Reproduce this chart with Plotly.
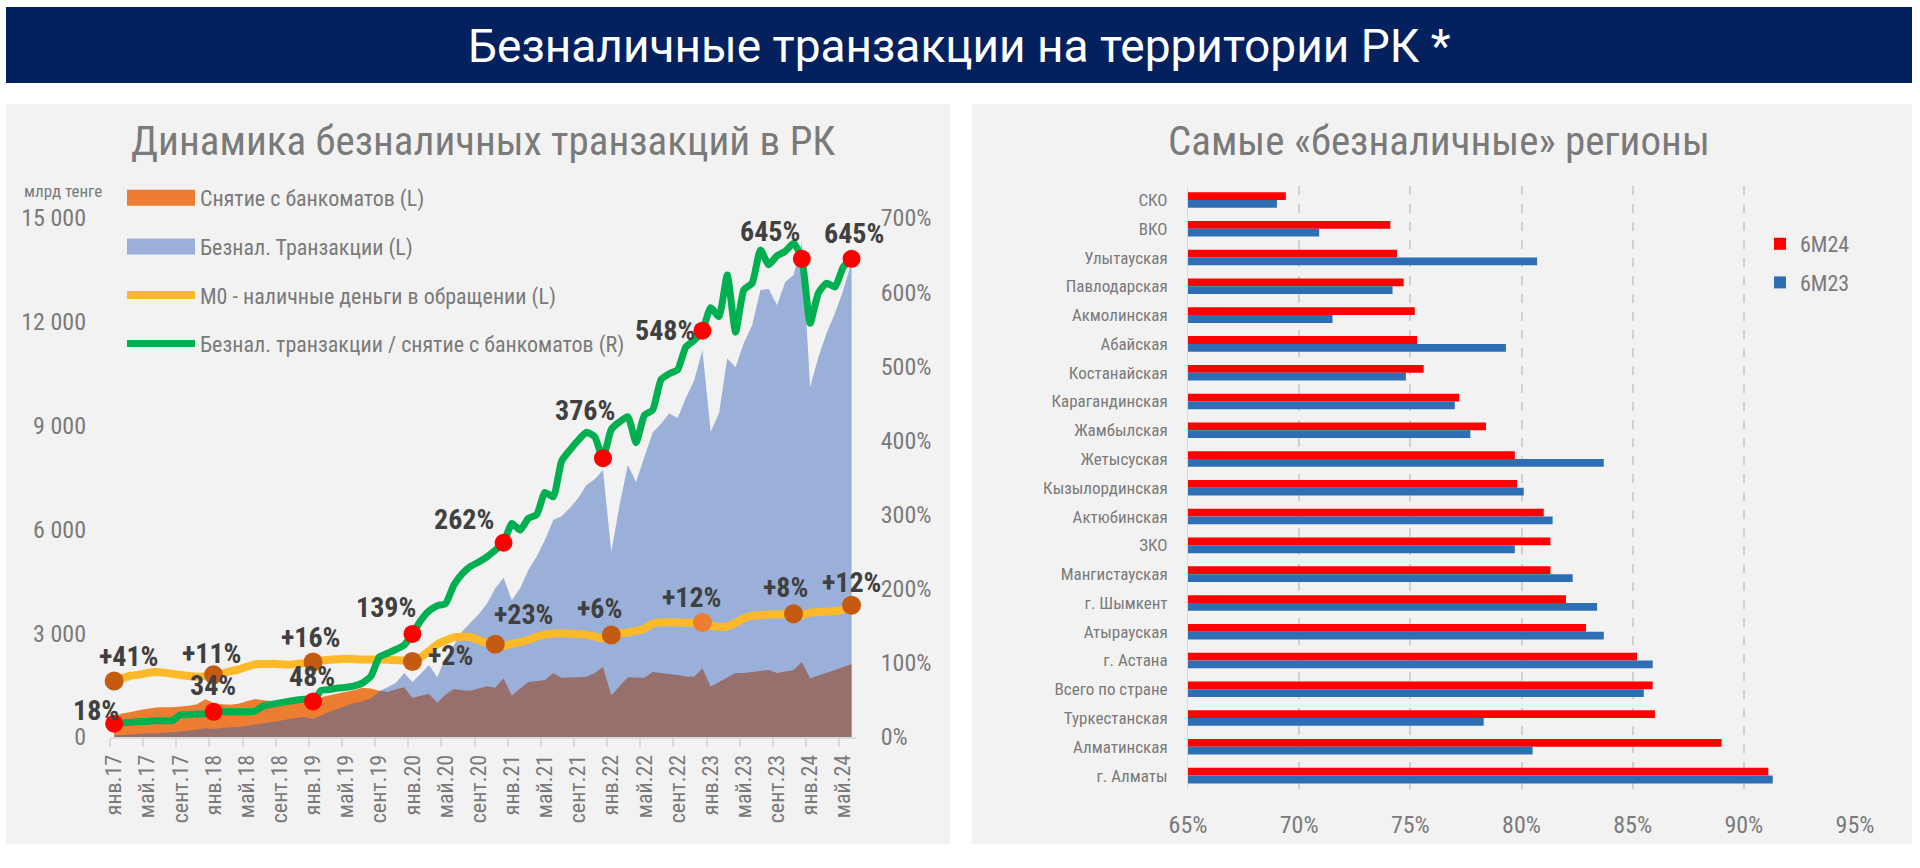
import plotly.graph_objects as go

W = 1920
H = 868

# ---------------------------------------------------
# LEFT CHART DATA (monthly, янв.17 - июн.24)
# ---------------------------------------------------

tick_labels = [
    "янв.17", "май.17", "сент.17", "янв.18", "май.18", "сент.18",
    "янв.19", "май.19", "сент.19", "янв.20", "май.20", "сент.20",
    "янв.21", "май.21", "сент.21", "янв.22", "май.22", "сент.22",
    "янв.23", "май.23", "сент.23", "янв.24", "май.24",
]

atm = [
    600, 680, 720, 770, 820, 850, 860, 860, 880, 900, 950, 1090,
    980, 950, 930, 960, 1030, 1100, 1060, 1040, 1060, 1070, 1100, 1120,
    1050, 1150, 1210, 1260, 1310, 1360, 1420, 1400, 1340, 1300, 1380, 1440,
    1130, 1190, 1240, 990, 1230, 1390, 1350, 1340, 1400, 1470, 1420, 1700,
    1190, 1400, 1590, 1620, 1650, 1850, 1710, 1720, 1730, 1740, 1850, 2020,
    1210, 1470, 1730, 1720, 1710, 1880, 1850, 1820, 1790, 1750, 1740, 1990,
    1450, 1590, 1720, 1850, 1850, 1880, 1910, 1940, 1850, 1890, 1940, 2170,
    1700, 1780, 1860, 1940, 2020, 2110,
]

cashless = [
    50, 60, 75, 90, 100, 110, 125, 140, 160, 190, 220, 250,
    230, 260, 280, 290, 320, 360, 400, 430, 470, 510, 550, 580,
    520, 620, 730, 820, 900, 980, 1030, 1120, 1330, 1440, 1560, 1850,
    1590, 1830, 2080, 1730, 2300, 2650, 3050, 3300, 3550, 3850, 4300, 4600,
    3950, 4300, 4830, 5220, 5700, 6270, 6380, 6620, 6900, 7280, 7450, 7720,
    5350, 6700, 7860, 7370, 8100, 8800, 9050, 9350, 9220, 9800, 10300, 11180,
    8820, 9360, 10950, 10690, 11390, 11900, 12920, 12950, 12480, 13150, 13350, 14300,
    10110, 10980, 11680, 12250, 12920, 13730,
]

m0 = [
    1620, 1700, 1770, 1800, 1850, 1880, 1860, 1830, 1790, 1760, 1740, 1760,
    1800, 1830, 1900, 1950, 2030, 2100, 2110, 2120, 2100, 2090, 2110, 2130,
    2170, 2210, 2230, 2250, 2260, 2250, 2240, 2240, 2240, 2230, 2220, 2210,
    2180, 2300, 2480, 2680, 2790, 2880, 2900, 2890, 2800, 2720, 2680, 2640,
    2690, 2740, 2810, 2900, 2960, 2990, 3000, 2990, 2980, 2960, 2900, 2850,
    2950, 2990, 3020, 3070, 3130, 3280, 3310, 3320, 3310, 3300, 3300, 3310,
    3220, 3180, 3200, 3300, 3430, 3500, 3520, 3540, 3540, 3560, 3560, 3530,
    3590, 3610, 3620, 3640, 3680, 3810,
]

ratio = [
    18, 19, 20, 21, 21, 22, 22, 22, 30, 30, 31, 31,
    34, 34, 34, 34, 34, 35, 42, 44, 46, 48, 50, 51,
    48, 63, 64, 66, 67, 69, 73, 82, 108, 113, 118, 124,
    139, 157, 170, 177, 180, 205, 220, 230, 236, 243, 252, 262,
    288, 279, 295, 300, 330, 324, 372, 387, 400, 411, 405, 376,
    415, 425, 432, 397, 434, 441, 482, 490, 495, 526, 535, 548,
    579, 567, 623, 546, 603, 612, 657, 637, 649, 655, 666, 645,
    558, 599, 612, 607, 634, 645,
]

# months that carry a dot and a label
ratio_points = [0, 12, 24, 36, 47, 59, 71, 83, 89]
ratio_labels = ["18%", "34%", "48%", "139%", "262%", "376%", "548%", "645%", "645%"]
ratio_shift = [(-18, 13), (-1, 26), (-1, 25), (-26, 26), (-40, 23), (-18, 48), (-37, 0), (-32, 27), (2, 25)]

m0_points = [0, 12, 24, 36, 46, 60, 71, 82, 89]
m0_labels = ["+41%", "+11%", "+16%", "+2%", "+23%", "+6%", "+12%", "+8%", "+12%"]
m0_shift = [(15, 24), (-2, 21), (-2, 24), (38, 6), (29, 30), (-12, 26), (-10, 25), (-8, 26), (0, 23)]
m0_colors = ["#c55a11"] * 6 + ["#ed7d31"] + ["#c55a11"] * 2

# ---------------------------------------------------
# RIGHT CHART DATA
# ---------------------------------------------------

regions = [
    "СКО", "ВКО", "Улытауская", "Павлодарская", "Акмолинская", "Абайская", "Костанайская",
    "Карагандинская", "Жамбылская", "Жетысуская", "Кызылординская", "Актюбинская", "ЗКО",
    "Мангистауская", "г. Шымкент", "Атырауская", "г. Астана", "Всего по стране",
    "Туркестанская", "Алматинская", "г. Алматы",
]
share_6m24 = [69.4, 74.1, 74.4, 74.7, 75.2, 75.3, 75.6, 77.2, 78.4, 79.7, 79.8, 81.0, 81.3, 81.3, 82.0, 82.9, 85.2, 85.9, 86.0, 89.0, 91.1]
share_6m23 = [69.0, 70.9, 80.7, 74.2, 71.5, 79.3, 74.8, 77.0, 77.7, 83.7, 80.1, 81.4, 79.7, 82.3, 83.4, 83.7, 85.9, 85.5, 78.3, 80.5, 91.3]

FONT = "Roboto Condensed"
GRAY = "#7a7a7a"
DARK = "#404040"


def dom_x(a, b):
    return [a / W, b / W]


def dom_y(top, bottom):
    return [(H - bottom) / H, (H - top) / H]


def page_text(x, y, text, family, size, color):
    # text placed by pixel position on the page
    return dict(
        x=x / W, y=(H - y) / H, xref="paper", yref="paper", xanchor="center", yanchor="middle",
        showarrow=False, text=text, font=dict(family=family, size=size, color=color),
    )


months = list(range(len(atm)))

fig = go.Figure()

fig.add_trace(go.Scatter(
    x=months, y=atm, mode="none", fill="tozeroy", fillcolor="#ed7d31",
    name="Снятие с банкоматов (L)", legendgroup="a", xaxis="x", yaxis="y",
))
fig.add_trace(go.Scatter(
    x=months, y=cashless, mode="none", fill="tozeroy", fillcolor="rgba(46,96,184,0.45)",
    name="Безнал. Транзакции (L)", legendgroup="b", xaxis="x", yaxis="y",
))
fig.add_trace(go.Scatter(
    x=months, y=m0, mode="lines", line=dict(color="#fdb927", width=8, shape="spline", smoothing=0.5),
    name="М0 - наличные деньги в обращении (L)", legendgroup="c", xaxis="x", yaxis="y",
))
fig.add_trace(go.Scatter(
    x=m0_points, y=[m0[i] for i in m0_points], mode="markers",
    marker=dict(size=19, color=m0_colors), cliponaxis=False, showlegend=False, xaxis="x", yaxis="y",
))
fig.add_trace(go.Scatter(
    x=months, y=ratio, mode="lines", line=dict(color="#00b050", width=7, shape="spline", smoothing=0.5),
    name="Безнал. транзакции / снятие с банкоматов (R)", legendgroup="d", xaxis="x", yaxis="y2",
))
fig.add_trace(go.Scatter(
    x=ratio_points, y=[ratio[i] for i in ratio_points], mode="markers",
    marker=dict(size=18, color="#ff0000"), cliponaxis=False, showlegend=False, xaxis="x", yaxis="y2",
))

fig.add_trace(go.Bar(
    y=regions, x=share_6m24, orientation="h", marker=dict(color="#ff0000", line=dict(width=0)),
    name="6M24", legendgroup="e", xaxis="x3", yaxis="y3", legend="legend2",
))
fig.add_trace(go.Bar(
    y=regions, x=share_6m23, orientation="h", marker=dict(color="#2e6eb5", line=dict(width=0)),
    name="6M23", legendgroup="f", xaxis="x3", yaxis="y3", legend="legend2",
))

annotations = []

for i, text, (dx, dy) in zip(ratio_points, ratio_labels, ratio_shift):
    annotations.append(dict(
        x=i, y=ratio[i], xref="x", yref="y2", text="<b>%s</b>" % text, showarrow=False,
        xshift=dx, yshift=dy, font=dict(family=FONT, size=28, color=DARK),
    ))
for i, text, (dx, dy) in zip(m0_points, m0_labels, m0_shift):
    annotations.append(dict(
        x=i, y=m0[i], xref="x", yref="y", text="<b>%s</b>" % text, showarrow=False,
        xshift=dx, yshift=dy, font=dict(family=FONT, size=28, color=DARK),
    ))

annotations.append(page_text(959, 46, "Безналичные транзакции на территории РК *", "Roboto", 46, "#ffffff"))
annotations.append(page_text(483, 141, "Динамика безналичных транзакций в РК", FONT, 41, GRAY))
annotations.append(page_text(1439, 141, "Самые «безналичные» регионы", FONT, 41, GRAY))
annotations.append(page_text(63, 191, "млрд тенге", FONT, 17, GRAY))

shapes = [
    dict(type="rect", xref="paper", yref="paper", layer="below", line=dict(width=0), fillcolor="#03205f",
         x0=6 / W, x1=1912 / W, y0=(H - 83) / H, y1=(H - 7) / H),
    dict(type="rect", xref="paper", yref="paper", layer="below", line=dict(width=0), fillcolor="#f2f2f2",
         x0=6 / W, x1=950 / W, y0=(H - 844) / H, y1=(H - 104) / H),
    dict(type="rect", xref="paper", yref="paper", layer="below", line=dict(width=0), fillcolor="#f2f2f2",
         x0=972 / W, x1=1912 / W, y0=(H - 844) / H, y1=(H - 104) / H),
]

fig.update_layout(
    width=W, height=H,
    margin=dict(l=0, r=0, t=0, b=0),
    paper_bgcolor="#ffffff",
    plot_bgcolor="rgba(0,0,0,0)",
    font=dict(family=FONT, color=GRAY),
    barmode="group",
    bargap=0.46,
    bargroupgap=0,
    annotations=annotations,
    shapes=shapes,
    legend=dict(
        x=122 / W, y=(H - 177) / H, xanchor="left", yanchor="top",
        bgcolor="rgba(0,0,0,0)", itemwidth=68, tracegroupgap=17,
        traceorder="grouped", font=dict(family=FONT, size=22, color=GRAY),
    ),
    legend2=dict(
        x=1760 / W, y=(H - 223) / H, xanchor="left", yanchor="top",
        bgcolor="rgba(0,0,0,0)", itemwidth=30, tracegroupgap=7,
        traceorder="grouped", font=dict(family=FONT, size=22, color=GRAY),
    ),
    xaxis=dict(
        domain=dom_x(110, 855.7), range=[-0.5, 89.5], anchor="y", automargin=False,
        tickmode="array", tickvals=months[::4], ticktext=tick_labels, tickangle=-90,
        ticks="", ticklabelstandoff=7, showgrid=False, zeroline=False,
        showline=True, linecolor="#d9d9d9", linewidth=2,
        tickfont=dict(family=FONT, size=22, color=GRAY),
        minor=dict(tickmode="array", tickvals=[m - 0.5 for m in months[::4]],
                   ticks="outside", ticklen=8, tickcolor="#d9d9d9", tickwidth=1.5),
    ),
    yaxis=dict(
        domain=dom_y(218, 737), range=[0, 15000], anchor="x", automargin=False,
        tickmode="array", tickvals=[0, 3000, 6000, 9000, 12000, 15000],
        ticktext=["0", "3 000", "6 000", "9 000", "12 000", "15 000"],
        ticks="", ticklabelstandoff=23, showgrid=False, zeroline=False,
        tickfont=dict(family=FONT, size=24, color=GRAY),
    ),
    yaxis2=dict(
        domain=dom_y(218, 737), range=[0, 700], anchor="x", overlaying="y", side="right", automargin=False,
        tickmode="array", tickvals=[0, 100, 200, 300, 400, 500, 600, 700],
        ticktext=["0%", "100%", "200%", "300%", "400%", "500%", "600%", "700%"],
        ticks="", ticklabelstandoff=24, showgrid=False, zeroline=False,
        tickfont=dict(family=FONT, size=24, color=GRAY),
    ),
    xaxis3=dict(
        domain=dom_x(1188, 1855), range=[65, 95], anchor="y3", automargin=False,
        tickmode="array", tickvals=[65, 70, 75, 80, 85, 90, 95],
        ticktext=["65%", "70%", "75%", "80%", "85%", "90%", "95%"],
        ticks="", ticklabelstandoff=18, zeroline=False,
        showgrid=True, gridcolor="#d0d0d0", griddash="dash", gridwidth=2,
        tickfont=dict(family=FONT, size=24, color=GRAY),
    ),
    yaxis3=dict(
        domain=dom_y(185.6, 790), anchor="x3", autorange="reversed", automargin=False,
        ticks="", ticklabelstandoff=16, showgrid=False, zeroline=False,
        showline=True, linecolor="#d9d9d9", linewidth=1,
        tickfont=dict(family=FONT, size=17, color=GRAY),
    ),
)

# legend swatches of the two areas are thicker in the original
post = """
document.body.style.margin = '0';
var fixSwatches = function () {
    document.querySelectorAll('.legendfill path').forEach(function (p) {
        if (p.getAttribute('d')) { p.setAttribute('d', 'M5,-8h68v16h-68z'); }
    });
};
var gd = document.querySelector('.plotly-graph-div');
gd.on('plotly_afterplot', fixSwatches);
fixSwatches();
"""

fig.write_html("out.html", config={"displayModeBar": False}, post_script=post)
